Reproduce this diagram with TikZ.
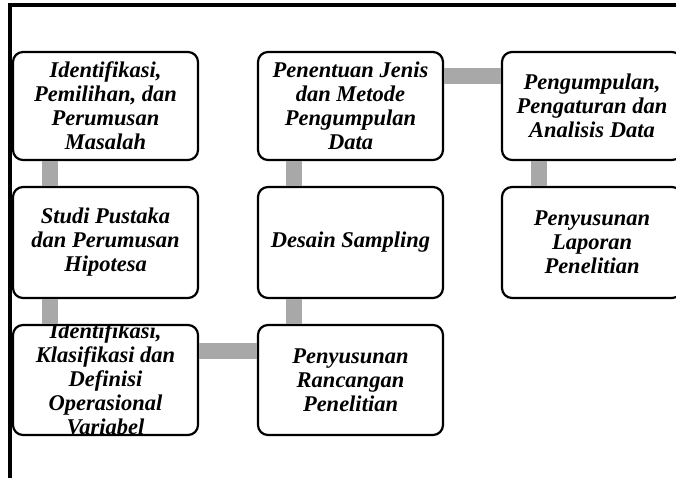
\documentclass[tikz,border=0pt]{standalone}
\usepackage{fontspec}
\setmainfont{Liberation Serif}
\definecolor{linkgray}{HTML}{A8A8A8}
\begin{document}
\begin{tikzpicture}[x=1pt,y=-1pt,
  stepbox/.style={draw=black, line width=2.2pt, rounded corners=10pt, fill=white,
    inner sep=0pt, minimum width=185pt},
  steptext/.style={align=center, inner sep=0pt,
    font=\fontsize{22.5}{24}\selectfont\bfseries\itshape},
  link/.style={draw=linkgray, line width=16pt}]
\useasboundingbox (0,0) rectangle (676,478);
\clip (0,0) rectangle (676,478);

% frame on the top and left
\draw[line width=3.5pt] (10,480) -- (10,5) -- (680,5);

% step boxes
\node[stepbox, minimum height=108pt] (a) at (105.5,106) {};
\node[stepbox, minimum height=111pt] (b) at (105.5,242.5) {};
\node[stepbox, minimum height=110pt] (c) at (105.5,380) {};
\node[stepbox, minimum height=110pt] (d) at (350.5,380) {};
\node[stepbox, minimum height=111pt] (e) at (350.5,242.5) {};
\node[stepbox, minimum height=108pt] (f) at (350.5,106) {};
\node[stepbox, minimum height=108pt, minimum width=180pt] (g) at (592,106) {};
\node[stepbox, minimum height=111pt, minimum width=180pt] (h) at (592,242.5) {};

% connecting bars
\draw[link] ([xshift=38pt]a.south west) -- ([xshift=38pt]b.north west);
\draw[link] ([xshift=38pt]b.south west) -- ([xshift=38pt]c.north west);
\draw[link] ([yshift=-27pt]c.north east) -- ([yshift=-27pt]d.north west);
\draw[link] ([xshift=37pt]d.north west) -- ([xshift=37pt]e.south west);
\draw[link] ([xshift=37pt]e.north west) -- ([xshift=37pt]f.south west);
\draw[link] ([yshift=-25pt]f.north east) -- ([yshift=-25pt]g.north west);
\draw[link] ([xshift=38pt]g.south west) -- ([xshift=38pt]h.north west);

% step labels
\node[steptext] at (a) {Identifikasi,\\Pemilihan, dan\\Perumusan\\Masalah};
\node[steptext] at (b) {Studi Pustaka\\dan Perumusan\\Hipotesa};
\begin{scope}
  \clip[rounded corners=10pt] (c.north west) rectangle (c.south east);
  \node[steptext] at ([yshift=1pt]c.center) {Identifikasi,\\Klasifikasi dan\\Definisi\\Operasional\\Variabel};
\end{scope}
\node[steptext] at (d) {Penyusunan\\Rancangan\\Penelitian};
\node[steptext] at (e) {Desain Sampling};
\node[steptext] at (f) {Penentuan Jenis\\dan Metode\\Pengumpulan\\Data};
\node[steptext] at (g) {Pengumpulan,\\Pengaturan dan\\Analisis Data};
\node[steptext] at (h) {Penyusunan\\Laporan\\Penelitian};
\end{tikzpicture}
\end{document}
